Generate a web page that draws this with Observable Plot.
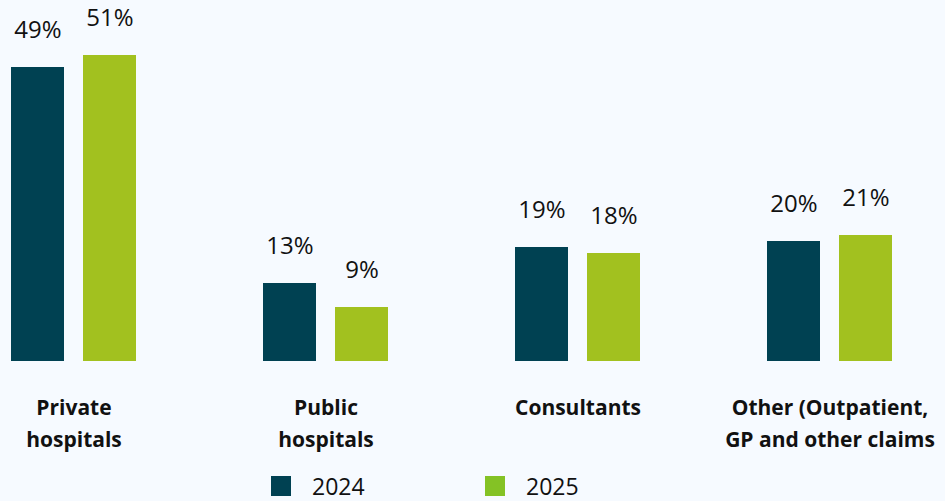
<!DOCTYPE html>
<html>
<head>
<meta charset="utf-8">
<script src="https://cdn.jsdelivr.net/npm/d3@7"></script>
<script src="https://cdn.jsdelivr.net/npm/@observablehq/plot@0.6"></script>
<style>
  html, body { margin: 0; padding: 0; background: #f6faff; }
  body { width: 945px; height: 501px; overflow: hidden; font-family: "Open Sans", sans-serif; }
  #chart svg { display: block; background: #f6faff; overflow: visible; }
  #legend { position: relative; height: 36px; }
  .item { position: absolute; top: 10px; display: flex; align-items: center; font-size: 23px; line-height: 22px; color: #111; }
  .sw { width: 20px; height: 20px; margin-right: 21px; }
</style>
</head>
<body>
<div id="chart"></div>
<div id="legend"></div>
<script>
const categories = ["Private\nhospitals", "Public\nhospitals", "Consultants", "Other (Outpatient,\nGP and other claims"];
const years = ["2024", "2025"];
const values2024 = [49, 13, 19, 20];
const values2025 = [51, 9, 18, 21];
const barColors = ["#004152", "#a2c11f"];
const legendColors = ["#004152", "#84c225"];

const data = [];
categories.forEach((c, i) => {
  data.push({category: c, year: years[0], value: values2024[i]});
  data.push({category: c, year: years[1], value: values2025[i]});
});

const chart = Plot.plot({
  width: 945,
  height: 465,
  marginLeft: 9,
  marginRight: 52,
  marginTop: 55,
  marginBottom: 104,
  style: {fontFamily: "'Open Sans', sans-serif", background: "#f6faff"},
  fx: {domain: categories, paddingInner: 0.4967, paddingOuter: 0, axis: null},
  x: {domain: years, paddingInner: 0.26, paddingOuter: 0, axis: null},
  y: {domain: [0, 51], axis: null},
  color: {domain: years, range: barColors},
  marks: [
    Plot.barY(data, {fx: "category", x: "year", y: "value", fill: "year"}),
    Plot.text(data, {fx: "category", x: "year", y: "value", text: d => d.value + "%", dy: -37, fontSize: 24, fill: "#111", lineAnchor: "middle"}),
    Plot.text(categories, {fx: d => d, y: 0, text: d => d, dy: 30, lineAnchor: "top", lineHeight: 1.55, fontSize: 21, fontWeight: "bold", fill: "#111"})
  ]
});
document.getElementById("chart").appendChild(chart);

const legend = document.getElementById("legend");
const lefts = [271, 485];
years.forEach((y, i) => {
  const it = document.createElement("div");
  it.className = "item";
  it.style.left = lefts[i] + "px";
  it.innerHTML = `<div class="sw" style="background:${legendColors[i]}"></div><span>${y}</span>`;
  legend.appendChild(it);
});
</script>
</body>
</html>
